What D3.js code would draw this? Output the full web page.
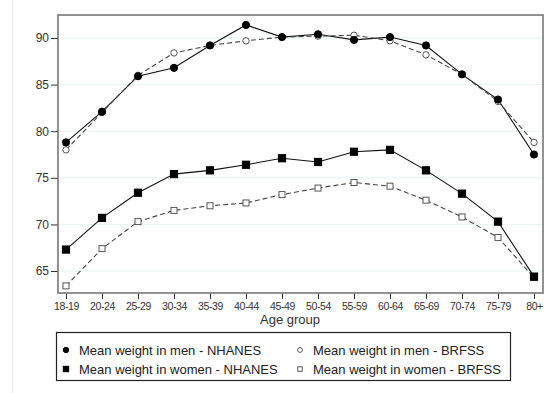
<!DOCTYPE html>
<html><head><meta charset="utf-8">
<script src="https://cdn.jsdelivr.net/npm/d3@7"></script>
<style>body{margin:0;background:#fff;}svg{display:block;font-family:"Liberation Sans",Arial,sans-serif;}</style>
</head><body>
<svg id="c" width="545" height="393"></svg>
<script>
const categories = ["18-19","20-24","25-29","30-34","35-39","40-44","45-49","50-54","55-59","60-64","65-69","70-74","75-79","80+"];
const menNHANES   = [78.8, 82.1, 85.9, 86.8, 89.2, 91.4, 90.1, 90.4, 89.8, 90.1, 89.2, 86.1, 83.4, 77.5];
const menBRFSS    = [78.0, 82.0, 86.0, 88.4, 89.2, 89.7, 90.1, 90.2, 90.3, 89.7, 88.2, 86.1, 83.2, 78.8];
const womenNHANES = [67.3, 70.7, 73.4, 75.4, 75.8, 76.4, 77.1, 76.7, 77.8, 78.0, 75.8, 73.3, 70.3, 64.4];
const womenBRFSS  = [63.4, 67.4, 70.3, 71.5, 72.0, 72.3, 73.2, 73.9, 74.5, 74.1, 72.6, 70.8, 68.6, 64.3];
const yTicks = [65, 70, 75, 80, 85, 90];
const legendLabels = ["Mean weight in men - NHANES","Mean weight in men - BRFSS","Mean weight in women - NHANES","Mean weight in women - BRFSS"];

const svg = d3.select("#c");
const L = 58, R = 543, T = 15, B = 293;
const x = d3.scalePoint().domain(categories).range([66, 534]);
const y = d3.scaleLinear().domain([62.64, 92.47]).range([B, T]);

// outer faint border
svg.append("line").attr("x1",12.5).attr("x2",12.5).attr("y1",0).attr("y2",393).attr("stroke","#e6eef2").attr("stroke-width",1);

// gridlines
svg.append("g").selectAll("line").data(yTicks).join("line")
  .attr("x1",L).attr("x2",R).attr("y1",d=>y(d)).attr("y2",d=>y(d))
  .attr("stroke","#eaf2f4").attr("stroke-width",1);

// y axis
const ya = svg.append("g").attr("transform",`translate(${L},0)`)
  .call(d3.axisLeft(y).tickValues(yTicks).tickSize(7).tickPadding(2));
ya.select(".domain").remove();
ya.selectAll("line").attr("stroke","#333");
ya.selectAll("text").attr("font-size","12px").attr("fill","#333");

// x axis
const xa = svg.append("g").attr("transform",`translate(0,${B})`)
  .call(d3.axisBottom(x).tickSize(6).tickPadding(4));
xa.select(".domain").remove();
xa.selectAll("line").attr("stroke","#333");
xa.selectAll("text").attr("font-size","10.5px").attr("fill","#333").attr("letter-spacing","-0.4px");

svg.append("text").attr("x",290).attr("y",324).attr("text-anchor","middle")
  .attr("font-size","13px").attr("fill","#333").text("Age group");

// frame
svg.append("rect").attr("x",L).attr("y",T).attr("width",R-L).attr("height",B-T)
  .attr("fill","none").attr("stroke","#777").attr("stroke-width",1.6);

const line = d3.line().x((d,i)=>x(categories[i])).y(d=>y(d));
const series = [
  {v: menNHANES, dash: null, type: "circle", fill: "#000", stroke:"#000"},
  {v: menBRFSS, dash: "5,3", type: "circle", fill: "#fff", stroke:"#555"},
  {v: womenNHANES, dash: null, type: "square", fill: "#000", stroke:"#000"},
  {v: womenBRFSS, dash: "5,3", type: "square", fill: "#fff", stroke:"#555"}
];
series.forEach(s=>{
  svg.append("path").datum(s.v).attr("d",line).attr("fill","none")
    .attr("stroke", s.dash ? "#444" : "#111").attr("stroke-width",1.1)
    .attr("stroke-dasharray", s.dash);
});
function drawMarker(g, cx, cy, s, scale){
  scale = scale||1;
  if (s.type==="circle"){
    g.append("circle").attr("cx",cx).attr("cy",cy).attr("r",(s.fill==="#000"?3.6:3.2)*scale)
      .attr("fill",s.fill).attr("stroke",s.stroke).attr("stroke-width",1);
  } else {
    const h = (s.fill==="#000"?3.6:3.0)*scale;
    g.append("rect").attr("x",cx-h).attr("y",cy-h).attr("width",2*h).attr("height",2*h)
      .attr("fill",s.fill).attr("stroke",s.stroke).attr("stroke-width",1);
  }
}
[1,3,0,2].forEach(k=>{
  const s = series[k];
  const g = svg.append("g");
  s.v.forEach((d,i)=>drawMarker(g, x(categories[i]), y(d), s));
});

// legend
svg.append("rect").attr("x",56.5).attr("y",332.5).attr("width",454).attr("height",48)
  .attr("fill","#fff").attr("stroke","#222").attr("stroke-width",1.2);
const lpos = [[66,350],[300,350],[66,369],[300,369]];
const lg = svg.append("g");
legendLabels.forEach((t,i)=>{
  const [lx,ly] = lpos[i];
  drawMarker(lg, lx, ly, series[i], 0.75);
  lg.append("text").attr("x",lx+13).attr("y",ly+4.5).attr("font-size","13px").attr("fill","#222").text(t);
});
</script>
</body></html>
